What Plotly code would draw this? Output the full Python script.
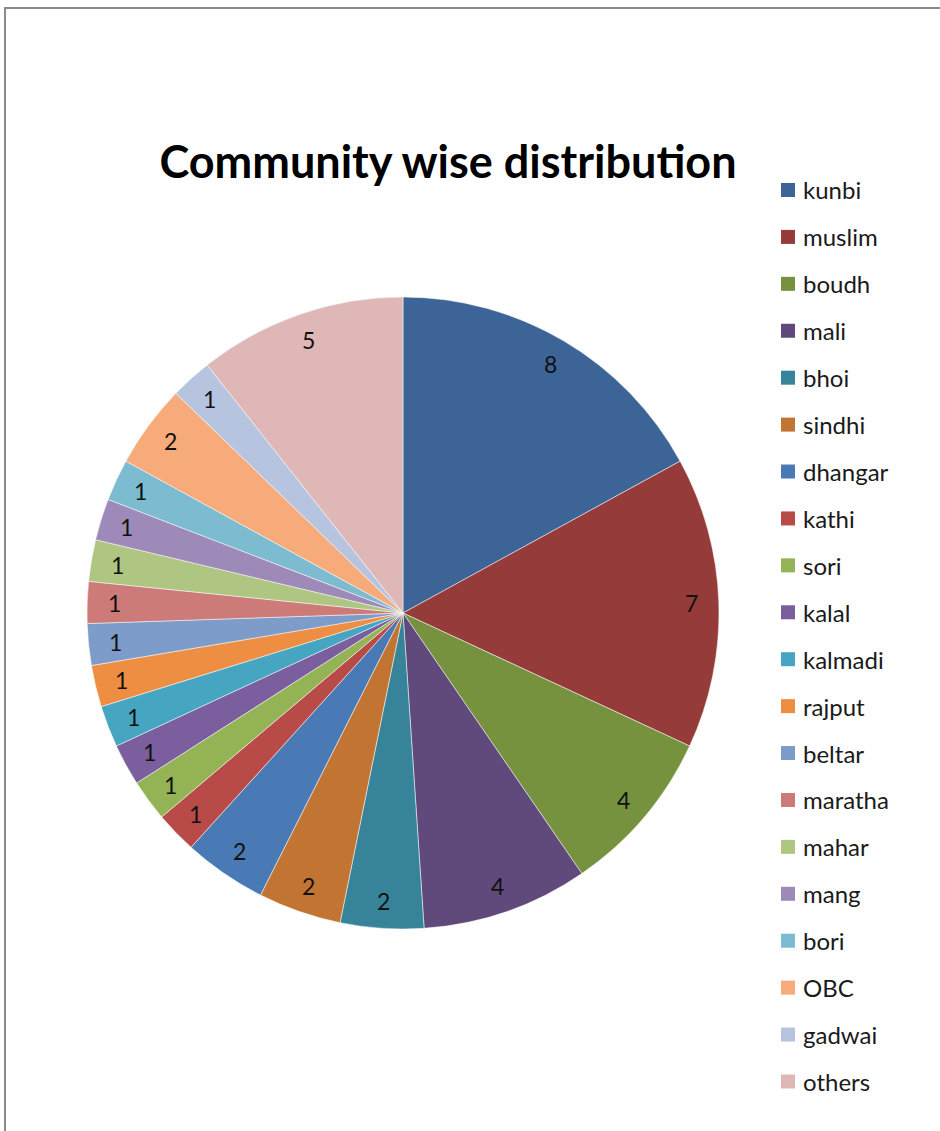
import math
import plotly.graph_objects as go

# ---- data ----
categories = ["kunbi", "muslim", "boudh", "mali", "bhoi", "sindhi", "dhangar", "kathi",
              "sori", "kalal", "kalmadi", "rajput", "beltar", "maratha", "mahar", "mang",
              "bori", "OBC", "gadwai", "others"]
values = [8, 7, 4, 4, 2, 2, 2, 1, 1, 1, 1, 1, 1, 1, 1, 1, 1, 2, 1, 5]
colors = ["#3C6496", "#953B39", "#77923F", "#604A7B", "#37849A", "#C27433",
          "#4A7AB5", "#B84B48", "#93B355", "#7A5E9D", "#46A5C0", "#EE8E43",
          "#7E9CC9", "#CC7B79", "#AEC682", "#9E8AB8", "#7CBBD0", "#F7AB7A",
          "#B6C4DF", "#DEB7B6"]
title_text = "Community wise distribution"

# ---- layout geometry (pixels) ----
W, H = 940, 1131
CX, CY, R = 403, 613, 316
FONT = "Lato"


def px(x):
    return x / W


def py(y):
    return 1 - y / H


fig = go.Figure()
fig.add_trace(go.Pie(
    labels=categories,
    values=values,
    sort=False,
    direction="clockwise",
    rotation=0,
    textinfo="none",
    hoverinfo="label+value",
    marker=dict(colors=colors, line=dict(color="rgba(255,255,255,0.5)", width=1)),
    domain=dict(x=[px(CX - R), px(CX + R)], y=[py(CY + R), py(CY - R)]),
    showlegend=False,
))

annotations = []
shapes = []

# value labels near the outer edge of each slice
total = sum(values)
cum = 0
for v in values:
    mid = (cum + v / 2) / total * 2 * math.pi
    cum += v
    rl = 0.915 * R
    x = CX + rl * math.sin(mid)
    y = CY - rl * math.cos(mid)
    annotations.append(dict(x=px(x), y=py(y), xref="paper", yref="paper",
                            text=str(v), showarrow=False,
                            font=dict(family=FONT, size=23, color="#111111"),
                            xanchor="center", yanchor="middle"))

# legend
LEG_X, LEG_Y0, LEG_STEP, SQ = 781, 190, 46.92, 14
for i, (c, col) in enumerate(zip(categories, colors)):
    yc = LEG_Y0 + i * LEG_STEP
    shapes.append(dict(type="rect", xref="paper", yref="paper",
                       x0=px(LEG_X), x1=px(LEG_X + SQ),
                       y0=py(yc + SQ / 2), y1=py(yc - SQ / 2),
                       fillcolor=col, line=dict(width=0)))
    annotations.append(dict(x=px(LEG_X + SQ + 6), y=py(yc), xref="paper", yref="paper",
                            text=c, showarrow=False, xanchor="left", yanchor="middle",
                            font=dict(family=FONT, size=24, color="#1a1a1a")))

# chart frame
shapes.append(dict(type="rect", xref="paper", yref="paper",
                   x0=px(5), x1=px(W + 10), y0=py(H + 10), y1=py(8),
                   line=dict(color="#8a8a8a", width=2), fillcolor="rgba(0,0,0,0)"))

fig.update_layout(
    width=W, height=H,
    margin=dict(l=0, r=0, t=0, b=0),
    paper_bgcolor="white",
    plot_bgcolor="white",
    title=dict(text=f"<b>{title_text}</b>", x=px(448), y=py(162),
               xanchor="center", yanchor="middle",
               font=dict(family=FONT, size=45, color="black")),
    annotations=annotations,
    shapes=shapes,
)

fig.write_html("out.html",
               config={"displayModeBar": False},
               post_script="document.body.style.margin='0';document.body.style.overflow='hidden';")
